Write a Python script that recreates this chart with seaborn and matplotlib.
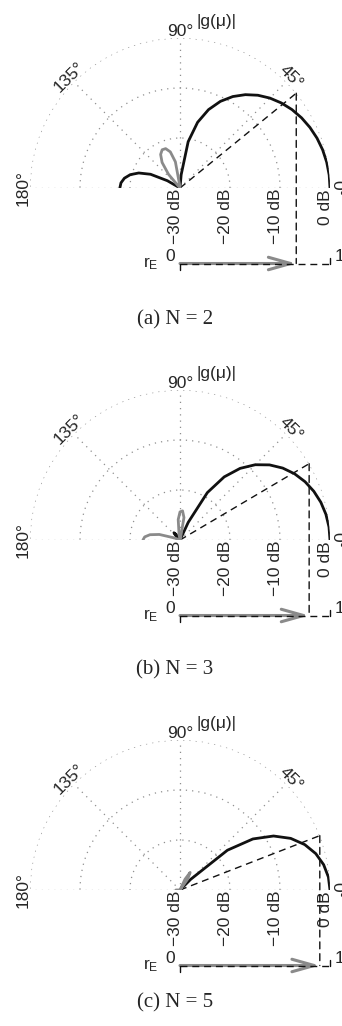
import numpy as np
import matplotlib
matplotlib.use("Agg")
import matplotlib.pyplot as plt
from matplotlib.patches import ConnectionPatch
import seaborn as sns

# ---------------------------------------------------------------------------
# Directivity |g(mu)| in dB versus angle mu (degrees).
# polarity: +1 in-phase lobe (black), -1 inverted lobe (gray), 0 = null
# ---------------------------------------------------------------------------
n2_angle = [0, 5, 10, 15, 20, 25, 30, 35, 40, 45, 50, 55, 60, 65, 70, 75, 80, 85, 90,
            95, 100, 105, 110, 115, 120, 125, 130, 135, 140, 140.8,
            145, 150, 155, 160, 165, 170, 175, 180]
n2_level = [0.0, -0.05, -0.21, -0.47, -0.84, -1.33, -1.93, -2.66, -3.54, -4.57,
            -5.78, -7.21, -8.88, -10.88, -13.32, -16.40, -20.60, -27.35, -60.0,
            -29.57, -24.68, -22.52, -21.62, -21.56, -22.25, -23.75, -26.42, -31.37, -48.2, -60.0,
            -33.87, -27.09, -23.50, -21.22, -19.70, -18.71, -18.15, -17.97]
n2_sign = [1, 1, 1, 1, 1, 1, 1, 1, 1, 1, 1, 1, 1, 1, 1, 1, 1, 1, 0,
           -1, -1, -1, -1, -1, -1, -1, -1, -1, -1, 0,
           1, 1, 1, 1, 1, 1, 1, 1]

n3_angle = [0, 5, 10, 15, 20, 25, 30, 35, 40, 45, 50, 55, 60, 65, 70,
            75, 80, 85, 90, 95, 100, 105, 110,
            115, 120, 125, 130, 135, 140, 145, 150,
            155, 160, 165, 170, 175, 180]
n3_level = [0.0, -0.09, -0.37, -0.84, -1.52, -2.41, -3.53, -4.92, -6.63, -8.71,
            -11.30, -14.59, -19.05, -26.09, -57.0,
            -29.70, -25.44, -24.15, -24.38, -25.89, -28.93, -34.94, -60.0,
            -35.6, -30.67, -28.62, -28.11, -28.91, -31.32, -36.97, -55.0,
            -34.33, -28.78, -25.72, -23.90, -22.91, -22.59]
n3_sign = [1, 1, 1, 1, 1, 1, 1, 1, 1, 1, 1, 1, 1, 1, 0,
           -1, -1, -1, -1, -1, -1, -1, 0,
           1, 1, 1, 1, 1, 1, 1, 0,
           -1, -1, -1, -1, -1, -1]

n5_angle = [0, 5, 10, 15, 20, 25, 30, 35, 40, 45, 48.9,
            50, 55, 60, 65, 70, 75, 76.4,
            80, 85, 90, 95, 100, 103.9,
            105, 110, 115, 120, 125, 130, 131.4,
            135, 140, 145, 150, 155, 158.7,
            160, 165, 170, 175, 180]
n5_level = [0.0, -0.21, -0.83, -1.89, -3.45, -5.57, -8.40, -12.20, -17.62, -27.01, -60.0,
            -37.7, -27.30, -25.94, -27.62, -32.42, -47.2, -60.0,
            -38.64, -33.54, -32.92, -35.15, -41.8, -60.0,
            -52.4, -39.15, -36.14, -36.36, -39.74, -52.3, -60.0,
            -44.33, -37.84, -36.01, -37.07, -42.5, -60.0,
            -51.8, -37.0, -32.14, -29.85, -29.16]
n5_sign = [1, 1, 1, 1, 1, 1, 1, 1, 1, 1, 0,
           -1, -1, -1, -1, -1, -1, 0,
           1, 1, 1, 1, 1, 0,
           -1, -1, -1, -1, -1, -1, 0,
           1, 1, 1, 1, 1, 0,
           -1, -1, -1, -1, -1]

# length of the energy vector r_E for each order
r_E = [0.775, 0.861, 0.932]
captions = ["(a) N = 2", "(b) N = 3", "(c) N = 5"]

ring_db = [-20, -10, 0]
ring_labels = ["\u221230 dB", "\u221220 dB", "\u221210 dB", "0 dB"]
ring_label_db = [-30, -20, -10, 0]
spoke_deg = [0, 45, 90, 135, 180]

# ---------------------------------------------------------------------------
# layout (pixels, measured from the top of the figure)
# ---------------------------------------------------------------------------
FIG_W, FIG_H, DPI = 342, 1026, 100
CENTER_X = 180
CENTER_Y = [188, 540, 890]
RADIUS = 150
RE_OFFSET = 75.5
CAPTION_Y = [320, 670, 1003]
FLOOR = -30.0
FS = 12.5

BLACK = "#111111"
GRAY = "#8a8a8a"
GRID = "#8f8f8f"
DOT = (0, (1, 4))
DASH = (0, (5, 3.5))

sns.set_style("white")
plt.rcParams["font.family"] = ["Liberation Sans", "DejaVu Sans"]
plt.rcParams["font.size"] = FS
plt.rcParams["mathtext.default"] = "regular"

fig = plt.figure(figsize=(FIG_W / DPI, FIG_H / DPI), dpi=DPI)
fig.patch.set_facecolor("white")


def lobes(angle, level, sign):
    """Split a pattern into same-polarity runs, each run closed by its nulls."""
    segs, cur, cur_sign = [], [], 0
    for a, l, s in zip(angle, level, sign):
        if s != 0 and cur_sign != 0 and s != cur_sign:
            segs.append((cur_sign, cur))
            cur = [cur[-1]]
        cur.append((a, l))
        if s == 0:
            if cur_sign != 0:
                segs.append((cur_sign, cur))
            cur, cur_sign = [(a, l)], 0
        elif cur_sign == 0:
            cur_sign = s
    if cur_sign != 0:
        segs.append((cur_sign, cur))
    return segs


def place_polar(ax, cx, cy_top, radius):
    """Move/scale a polar axes so its centre and 0 dB ring land at given pixels."""
    for _ in range(2):
        fig.canvas.draw()
        pos = ax.get_position()
        c = ax.transData.transform((0.0, FLOOR))
        o = ax.transData.transform((0.0, 0.0))
        s = radius / (o[0] - c[0])
        left_px, bottom_px = pos.x0 * FIG_W, pos.y0 * FIG_H
        new_left = cx - (c[0] - left_px) * s
        new_bottom = (FIG_H - cy_top) - (c[1] - bottom_px) * s
        ax.set_position([new_left / FIG_W, new_bottom / FIG_H,
                         pos.width * s, pos.height * s])


patterns = [(n2_angle, n2_level, n2_sign),
            (n3_angle, n3_level, n3_sign),
            (n5_angle, n5_level, n5_sign)]

for k, (angle, level, sign) in enumerate(patterns):
    cy = CENTER_Y[k]
    ax = fig.add_axes([(CENTER_X - RADIUS) / FIG_W, (FIG_H - cy - RADIUS) / FIG_H,
                       2 * RADIUS / FIG_W, 2 * RADIUS / FIG_H], projection="polar")
    ax.set_thetamin(0)
    ax.set_thetamax(180)
    ax.set_rlim(FLOOR, 0)
    ax.set_thetagrids(spoke_deg, labels=[""] * len(spoke_deg))
    ax.set_rgrids(ring_db, labels=[""] * len(ring_db))
    ax.grid(True, color=GRID, linewidth=0.9, linestyle=DOT)
    ax.tick_params(length=0)
    # the polar frame is re-enabled at draw time, so make it invisible instead
    for sp in ax.spines.values():
        sp.set_linewidth(0)
        sp.set_edgecolor("none")

    # energy-vector direction (dashed ray from the centre to the 0 dB ring)
    theta_e = np.arccos(r_E[k])
    ax.plot([theta_e, theta_e], [FLOOR, 0], color=BLACK, lw=1.0, ls=DASH, zorder=3)

    # pattern lobes
    for s, pts in lobes(angle, level, sign):
        th = np.deg2rad([p[0] for p in pts])
        rr = np.maximum([p[1] for p in pts], FLOOR)
        sns.lineplot(x=th, y=rr, ax=ax, sort=False, estimator=None,
                     color=BLACK if s > 0 else GRAY, linewidth=2.0,
                     zorder=4 if s > 0 else 5)
    ax.set_xlabel("")
    ax.set_ylabel("")
    ax.set_rlim(FLOOR, 0)

    # angle labels
    for a in spoke_deg:
        ax.text(np.deg2rad(a), 1.35, f"{a}\u00b0", rotation=a - 90,
                ha="center", va="center", fontsize=FS, clip_on=False)
    ax.annotate("|g(\u03bc)|", xy=(np.pi / 2, 1.35), xytext=(17, 10),
                textcoords="offset pixels", ha="left", va="center", fontsize=FS,
                annotation_clip=False)

    # level labels under the baseline
    for v, lab in zip(ring_label_db, ring_labels):
        ax.annotate(lab, xy=(0.0, v), xytext=(-4, -1), textcoords="offset pixels",
                    rotation=90, ha="center", va="top", fontsize=FS,
                    annotation_clip=False)

    place_polar(ax, CENTER_X, cy, RADIUS)

    # r_E axis, aligned with the centre and the 0 dB ring
    fig.canvas.draw()
    c = ax.transData.transform((0.0, FLOOR))
    o = ax.transData.transform((0.0, 0.0))
    line_y = c[1] - RE_OFFSET
    ax2 = fig.add_axes([c[0] / FIG_W, (line_y - 10) / FIG_H,
                        (o[0] - c[0]) / FIG_W, 20 / FIG_H])
    ax2.set_xlim(0, 1)
    ax2.set_ylim(-10, 10)
    ax2.axis("off")

    ax2.annotate("", xy=(r_E[k], 0), xytext=(0, 0),
                 arrowprops=dict(arrowstyle="->,head_length=1.6,head_width=0.45",
                                 color=GRAY, lw=2.2, shrinkA=0, shrinkB=0,
                                 mutation_scale=10), zorder=2)
    ax2.plot([0, 1], [0, 0], color=BLACK, lw=1.0, ls=DASH, zorder=3, clip_on=False)
    ax2.plot([0, 0], [0, -6], color=BLACK, lw=1.0, clip_on=False)
    ax2.plot([1, 1], [0, 6], color=BLACK, lw=1.0, clip_on=False)
    ax2.annotate("0", xy=(0, 0), xytext=(-10, 7), textcoords="offset pixels",
                 ha="center", va="center", fontsize=FS, annotation_clip=False)
    ax2.annotate("1", xy=(1, 0), xytext=(10, 7), textcoords="offset pixels",
                 ha="center", va="center", fontsize=FS, annotation_clip=False)
    ax2.annotate(r"$r_E$", xy=(0, 0), xytext=(-29, 0), textcoords="offset pixels",
                 ha="center", va="center", fontsize=FS, annotation_clip=False)

    # projection of the energy vector onto the r_E axis
    con = ConnectionPatch(xyA=(theta_e, 0.0), coordsA=ax.transData,
                          xyB=(r_E[k], 0), coordsB=ax2.transData,
                          color=BLACK, lw=1.0, linestyle=DASH, zorder=3)
    fig.add_artist(con)

    fig.text(175 / FIG_W, 1 - CAPTION_Y[k] / FIG_H, captions[k],
             ha="center", va="center", fontsize=15, family="Liberation Serif")

fig.savefig("out.png", dpi=DPI, facecolor="white")
